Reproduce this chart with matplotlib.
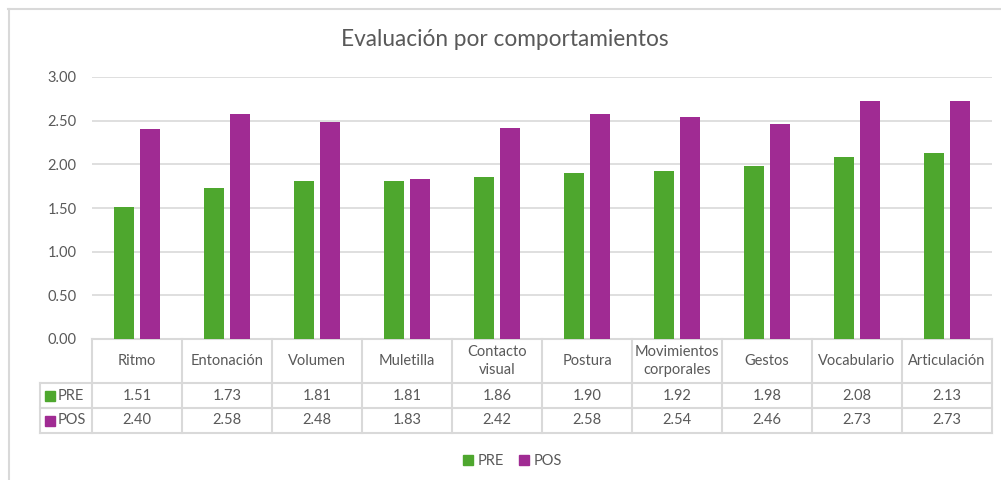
import numpy as np
import matplotlib.pyplot as plt
from matplotlib.patches import Patch
from matplotlib.lines import Line2D

# dane
categorias = ["Ritmo", "Entonación", "Volumen", "Muletilla", "Contacto\nvisual",
              "Postura", "Movimientos\ncorporales", "Gestos", "Vocabulario", "Articulación"]
pre = [1.51, 1.73, 1.81, 1.81, 1.86, 1.90, 1.92, 1.98, 2.08, 2.13]
pos = [2.40, 2.58, 2.48, 1.83, 2.42, 2.58, 2.54, 2.46, 2.73, 2.73]
series = ["PRE", "POS"]

verde = "#4EA72E"
morado = "#A02B93"
gris = "#595959"
linea = "#D9D9D9"

plt.rcParams['font.family'] = ['Lato', 'DejaVu Sans']

fig = plt.figure(figsize=(10.01, 4.80), dpi=100)
ax = fig.add_axes([92/1001, 1-339/480, 900/1001, 262/480])

x = np.arange(len(categorias))
ax.bar(x - 0.145, pre, width=0.22, color=verde, zorder=3)
ax.bar(x + 0.145, pos, width=0.22, color=morado, zorder=3)

ax.set_xlim(-0.5, len(categorias) - 0.5)
ax.set_ylim(0, 3)
ax.set_yticks(np.arange(0, 3.01, 0.5))
ax.set_yticklabels(["%.2f" % v for v in np.arange(0, 3.01, 0.5)], color=gris, fontsize=10.5)
ax.set_xticks([])
ax.tick_params(axis='y', length=0, pad=11)
ax.grid(axis='y', color=linea, lw=1.2, zorder=0)
for s in ax.spines.values():
    s.set_visible(False)

# tabla de datos
tr = ax.get_xaxis_transform()
def yax(px):
    return (339 - px) / 262

xl = -0.5 - 52/90   # lewa krawedz kolumny legendy
for k in range(len(categorias) + 1):
    ax.add_line(Line2D([k - 0.5, k - 0.5], [yax(339), yax(433)], transform=tr,
                       color=linea, lw=1.5, clip_on=False))
ax.add_line(Line2D([xl, xl], [yax(383), yax(433)], transform=tr, color=linea, lw=1.5, clip_on=False))
ax.add_line(Line2D([-0.5, 9.5], [yax(339), yax(339)], transform=tr, color=linea, lw=1.5, clip_on=False))
for py in [383, 408, 433]:
    ax.add_line(Line2D([xl, 9.5], [yax(py), yax(py)], transform=tr, color=linea, lw=1.5, clip_on=False))

for i, c in enumerate(categorias):
    ax.text(i, yax(361), c, transform=tr, ha='center', va='center', color=gris,
            fontsize=10.5, linespacing=1.3)
    ax.text(i, yax(395.5), "%.2f" % pre[i], transform=tr, ha='center', va='center',
            color=gris, fontsize=10.5)
    ax.text(i, yax(420.5), "%.2f" % pos[i], transform=tr, ha='center', va='center',
            color=gris, fontsize=10.5)

for nombre, col, py in [("PRE", verde, 395.5), ("POS", morado, 420.5)]:
    ax.plot([xl + 10/90], [yax(py)], marker='s', ms=7, color=col, transform=tr, clip_on=False)
    ax.text(xl + 18/90, yax(py), nombre, transform=tr, ha='left', va='center',
            color=gris, fontsize=10.5)

# titulo
fig.text(0.504, 1 - 40/480, "Evaluación por comportamientos", ha='center', va='center',
         color=gris, fontsize=16.3)

# leyenda
handles = [Patch(color=verde, label="PRE"), Patch(color=morado, label="POS")]
fig.legend(handles=handles, loc='center', bbox_to_anchor=(0.512, 1 - 461/480), ncol=2,
           frameon=False, handlelength=0.7, handleheight=0.7, handletextpad=0.3,
           columnspacing=1.0, fontsize=10.5, labelcolor=gris)

# ramka wykresu
fig.add_artist(Line2D([8/1001, 1], [1 - 9/480, 1 - 9/480], color=linea, lw=1.5))
fig.add_artist(Line2D([9/1001, 9/1001], [0, 1 - 9/480], color=linea, lw=1.5))

plt.savefig("out.png", dpi=100)
